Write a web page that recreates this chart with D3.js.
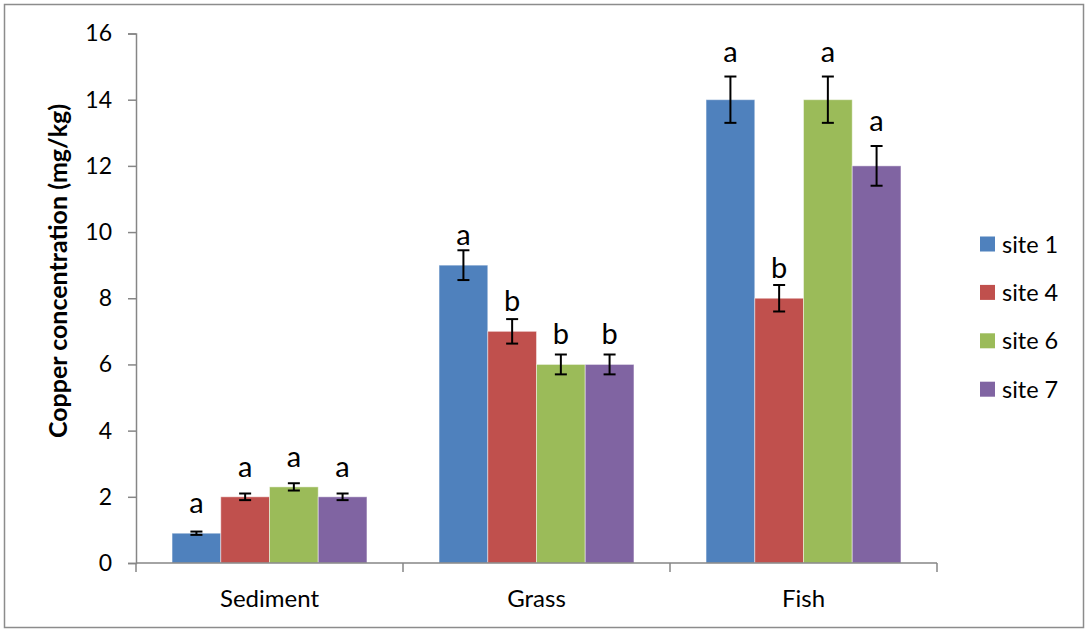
<!DOCTYPE html>
<html>
<head>
<meta charset="utf-8">
<script src="https://cdn.jsdelivr.net/npm/d3@7"></script>
<style>
  html, body { margin: 0; padding: 0; background: #fff; }
  svg { display: block; font-family: Lato, "Open Sans", sans-serif; }
</style>
</head>
<body>
<svg id="chart" width="1086" height="630"></svg>
<script>
// Copper concentration by sample type and site
const categories = ["Sediment", "Grass", "Fish"];
const sites = ["site 1", "site 4", "site 6", "site 7"];
const colors = ["#4F81BD", "#C0504D", "#9BBB59", "#8064A2"];

// mean values per site, one array per site (order follows categories)
const site1 = [0.9, 9, 14];
const site4 = [2.0, 7, 8];
const site6 = [2.3, 6, 14];
const site7 = [2.0, 6, 12];

// standard errors
const site1Err = [0.05, 0.45, 0.7];
const site4Err = [0.1, 0.37, 0.4];
const site6Err = [0.11, 0.3, 0.7];
const site7Err = [0.1, 0.3, 0.6];

// significance letters
const site1Sig = ["a", "a", "a"];
const site4Sig = ["a", "b", "b"];
const site6Sig = ["a", "b", "a"];
const site7Sig = ["a", "b", "a"];

const yTicks = [0, 2, 4, 6, 8, 10, 12, 14, 16];

const values = [site1, site4, site6, site7];
const errors = [site1Err, site4Err, site6Err, site7Err];
const letters = [site1Sig, site4Sig, site6Sig, site7Sig];

const rows = [];
categories.forEach((c, ci) => {
  sites.forEach((s, si) => {
    rows.push({ cat: c, site: s, si, v: values[si][ci], e: errors[si][ci], sig: letters[si][ci] });
  });
});

const svg = d3.select("#chart");
const axisColor = "#868686";

// outer frame
svg.append("rect")
  .attr("x", 4.5).attr("y", 4.5).attr("width", 1079).attr("height", 623)
  .attr("fill", "none").attr("stroke", "#8c8c8c").attr("stroke-width", 1.5);

const plotLeft = 136, plotRight = 937, plotTop = 33.5, plotBottom = 563;

const x0 = d3.scaleBand().domain(categories).range([plotLeft, plotRight]).padding(0);
const x1 = d3.scaleBand().domain(sites).range([0, x0.bandwidth()]).paddingInner(0).paddingOuter(0.74);
const y = d3.scaleLinear().domain([0, 16]).range([plotBottom, plotTop]);

// bars
svg.append("g").selectAll("rect").data(rows).join("rect")
  .attr("x", d => x0(d.cat) + x1(d.site))
  .attr("y", d => y(d.v))
  .attr("width", x1.bandwidth())
  .attr("height", d => y(0) - y(d.v))
  .attr("fill", d => colors[d.si])
  .attr("stroke", "rgba(255,255,255,0.45)")
  .attr("stroke-width", 1);

// error bars
const capW = 12;
const eg = svg.append("g").attr("stroke", "#000").attr("stroke-width", 2);
rows.forEach(d => {
  const cx = x0(d.cat) + x1(d.site) + x1.bandwidth() / 2;
  const yt = y(d.v + d.e), yb = y(d.v - d.e);
  eg.append("line").attr("x1", cx).attr("x2", cx).attr("y1", yt).attr("y2", yb);
  eg.append("line").attr("x1", cx - capW / 2).attr("x2", cx + capW / 2).attr("y1", yt).attr("y2", yt);
  eg.append("line").attr("x1", cx - capW / 2).attr("x2", cx + capW / 2).attr("y1", yb).attr("y2", yb);
});

// significance letters above bars
svg.append("g").selectAll("text").data(rows).join("text")
  .attr("x", d => x0(d.cat) + x1(d.site) + x1.bandwidth() / 2)
  .attr("y", d => {
    const barTop = y(d.v), errTop = y(d.v + d.e);
    const base = barTop - 20;
    return base > errTop - 5 ? errTop - 15 : base;
  })
  .attr("text-anchor", "middle")
  .attr("font-size", 29)
  .attr("fill", "#000")
  .text(d => d.sig);

// y axis
const yAxis = svg.append("g")
  .attr("transform", `translate(${plotLeft},0)`)
  .call(d3.axisLeft(y).tickValues(yTicks).tickSize(8).tickPadding(16).tickFormat(d3.format("d")));
yAxis.select(".domain").attr("stroke", axisColor).attr("stroke-width", 1.5);
yAxis.selectAll(".tick line").attr("stroke", axisColor).attr("stroke-width", 1.5);
yAxis.selectAll(".tick text").attr("font-size", 23).attr("fill", "#000").attr("font-family", "Lato, sans-serif");

// x axis with ticks at category boundaries
const xAxis = svg.append("g").attr("transform", `translate(0,${plotBottom})`);
xAxis.append("line").attr("x1", plotLeft).attr("x2", plotRight).attr("y1", 0).attr("y2", 0)
  .attr("stroke", axisColor).attr("stroke-width", 1.5);
const bounds = categories.map(c => x0(c)).concat([x0(categories[categories.length - 1]) + x0.bandwidth()]);
xAxis.selectAll(".bt").data(bounds).join("line")
  .attr("x1", d => d).attr("x2", d => d).attr("y1", 0).attr("y2", 9)
  .attr("stroke", axisColor).attr("stroke-width", 1.5);
xAxis.selectAll("text").data(categories).join("text")
  .attr("x", d => x0(d) + x0.bandwidth() / 2)
  .attr("y", 44)
  .attr("text-anchor", "middle")
  .attr("font-size", 24)
  .attr("fill", "#000")
  .text(d => d);

// y axis title
svg.append("text")
  .attr("transform", "translate(67,271) rotate(-90)")
  .attr("text-anchor", "middle")
  .attr("font-size", 25)
  .attr("font-weight", "bold")
  .attr("fill", "#000")
  .text("Copper concentration (mg/kg)");

// legend
const lg = svg.append("g").attr("transform", "translate(980,244)");
sites.forEach((s, i) => {
  const g = lg.append("g").attr("transform", `translate(0,${i * 48.4})`);
  g.append("rect").attr("x", 0).attr("y", -7.5).attr("width", 15).attr("height", 15).attr("fill", colors[i]);
  g.append("text").attr("x", 22).attr("y", 8.5).attr("font-size", 23.5).attr("fill", "#000").text(s);
});
</script>
</body>
</html>
